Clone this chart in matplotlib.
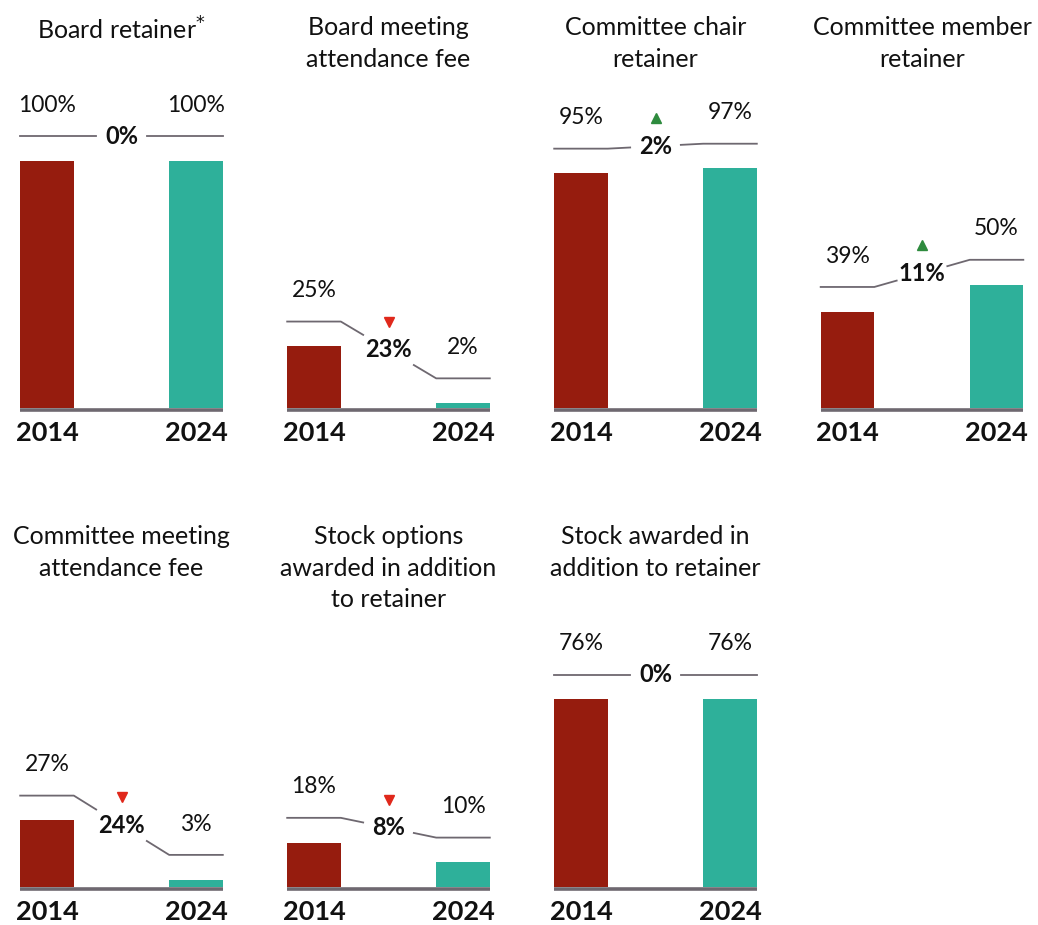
import matplotlib.pyplot as plt

plt.rcParams['font.family'] = ['Lato', 'DejaVu Sans']

titles = ["Board retainer$^{*}$", "Board meeting\nattendance fee", "Committee chair\nretainer",
          "Committee member\nretainer", "Committee meeting\nattendance fee",
          "Stock options\nawarded in addition\nto retainer", "Stock awarded in\naddition to retainer"]
years = ["2014", "2024"]
v2014 = [100, 25, 95, 39, 27, 18, 76]
v2024 = [100, 2, 97, 50, 3, 10, 76]

red = "#961c0e"
teal = "#2eb09a"
gray = "#6e6870"
up_col = "#2e8b3e"
down_col = "#e0281b"

W, H = 1038, 925
fig = plt.figure(figsize=(W / 100, H / 100), dpi=100)

px_x = 149.0   # pixels per x unit
px_y = 2.47    # pixels per percent
xlo, xhi = -0.3, 1.3
ylo, yhi = -15, 135
centers = [47, 314, 581, 847.5]
baselines = [408, 887]
title_tops = [16, 525]
bw = 0.36
off = 10      # line above bar
lab = 12.5    # label above line
gap = 0.17

for i in range(7):
    row, col = divmod(i, 4)
    left_px = centers[col] + xlo * px_x
    width_px = (xhi - xlo) * px_x
    bottom_px = baselines[row] - ylo * px_y  # from top
    height_px = (yhi - ylo) * px_y
    ax = fig.add_axes([left_px / W, 1 - bottom_px / H, width_px / W, height_px / H])
    ax.set_xlim(xlo, xhi)
    ax.set_ylim(ylo, yhi)
    ax.axis('off')

    a, b = v2014[i], v2024[i]
    ax.bar([0, 1], [a, b], width=bw, color=[red, teal], zorder=2)
    ax.plot([-bw / 2, 1 + bw / 2], [-0.7, -0.7], color=gray, lw=2.6, solid_capstyle='butt', zorder=3)

    y1, y2 = a + off, b + off
    ym = (y1 + y2) / 2
    slope = (y2 - y1) / (1 - bw)
    xl = 0.5 - gap
    xr = 0.5 + gap
    ax.plot([-bw / 2, bw / 2, xl], [y1, y1, y1 + slope * (xl - bw / 2)], color=gray, lw=1.3)
    ax.plot([xr, 1 - bw / 2, 1 + bw / 2], [y1 + slope * (xr - bw / 2), y2, y2], color=gray, lw=1.3)

    ax.text(0, y1 + lab, f"{a}%", ha='center', va='center', fontsize=16.5, color='#111111')
    ax.text(1, y2 + lab, f"{b}%", ha='center', va='center', fontsize=16.5, color='#111111')
    ax.text(0.5, ym, f"{abs(b - a)}%", ha='center', va='center', fontsize=17,
            fontweight='bold', color='#111111')
    if b > a:
        ax.plot(0.5, ym + 11.3, marker='^', color=up_col, markersize=7)
    elif b < a:
        ax.plot(0.5, ym + 11.3, marker='v', color=down_col, markersize=7)

    for x, yr in zip([0, 1], years):
        ax.text(x, -10, yr, ha='center', va='center', fontsize=19.5, fontweight='bold', color='#111111')

    fig.text((centers[col] + 0.5 * px_x) / W, 1 - title_tops[row] / H, titles[i],
             ha='center', va='top', fontsize=18, linespacing=1.45, color='#111111')

fig.savefig("out.png", dpi=100)
